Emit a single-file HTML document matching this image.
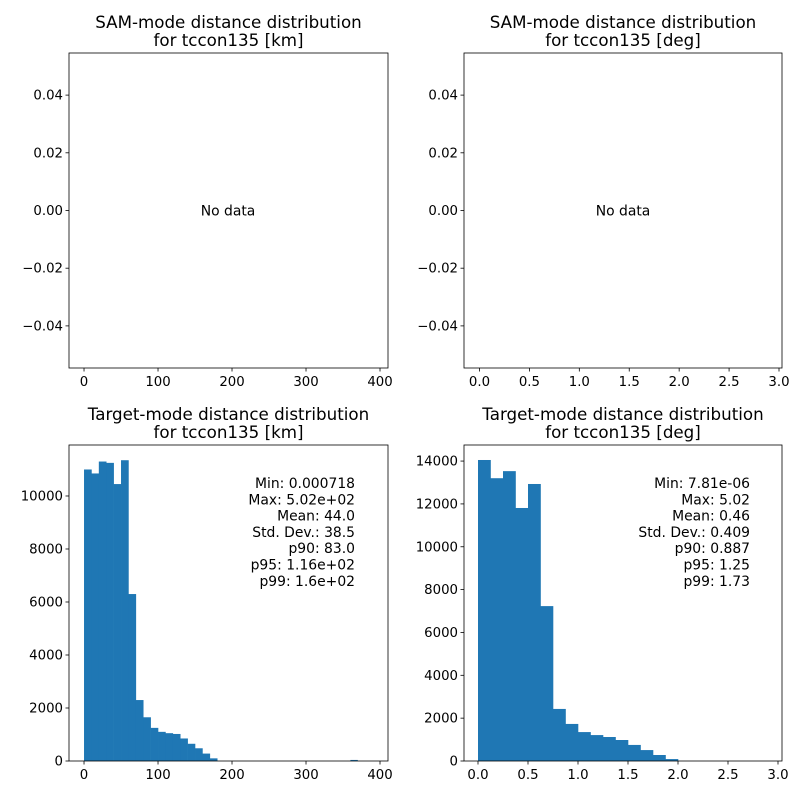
<!DOCTYPE html>
<html><head><meta charset="utf-8"><style>
body{margin:0;background:#fff;}
svg{display:block;font-family:"DejaVu Sans","Liberation Sans",sans-serif;}
</style></head><body>
<svg id="fig" width="800" height="800" xmlns="http://www.w3.org/2000/svg"></svg>
<script>
const kmCounts=[11000,10850,11300,11250,10450,11350,6300,2300,1650,1250,1100,1050,1020,850,650,480,280,100];
const kmBinWidth=10;
const kmOutlierBin=[360,40];
const degCounts=[14050,13200,13530,11810,12930,7230,2430,1730,1350,1210,1120,980,750,510,280,90];
const degBinWidth=0.125;
const kmStats=["Min: 0.000718","Max: 5.02e+02","Mean: 44.0","Std. Dev.: 38.5","p90: 83.0","p95: 1.16e+02","p99: 1.6e+02"];
const degStats=["Min: 7.81e-06","Max: 5.02","Mean: 0.46","Std. Dev.: 0.409","p90: 0.887","p95: 1.25","p99: 1.73"];
const kmXTicks=[0,100,200,300,400];
const degXTicks=[0,0.5,1.0,1.5,2.0,2.5,3.0];
const emptyYTicks=[0.04,0.02,0,-0.02,-0.04];
const kmYTicks=[0,2000,4000,6000,8000,10000];
const degYTicks=[0,2000,4000,6000,8000,10000,12000,14000];

const svg=document.getElementById('fig');
const NS='http://www.w3.org/2000/svg';
function el(tag,attrs,parent){const e=document.createElementNS(NS,tag);for(const k in attrs)e.setAttribute(k,attrs[k]);(parent||svg).appendChild(e);return e;}
function txt(s,attrs,parent){const t=el('text',attrs,parent);t.textContent=s;return t;}

function axes(cfg){
  const g=el('g',{});
  
  
  const {L,T,R,B,x0,x1,y0,y1}=cfg;
  const sx=v=>L+(v-x0)/(x1-x0)*(R-L);
  const sy=v=>B-(v-y0)/(y1-y0)*(B-T);
  if(cfg.draw)cfg.draw(g,sx,sy);
  const fr=el('rect',{x:L,y:T,width:R-L,height:B-T,fill:'none',stroke:'#000','stroke-width':0.8},g);
  
  
  cfg.xt.forEach((v,i)=>{const x=sx(v);el('line',{x1:x,x2:x,y1:B,y2:B+3.5,stroke:'#000','stroke-width':0.8},g);
    const t=txt(cfg.xl[i],{x:x,y:B+18,'font-size':13.3,'text-anchor':'middle',fill:'#000'},g);
    
    });
  cfg.yt.forEach((v,i)=>{const y=sy(v);el('line',{x1:L-3.5,x2:L,y1:y,y2:y,stroke:'#000','stroke-width':0.8},g);
    const t=txt(cfg.yl[i],{x:L-6,y:y+4.5,'font-size':13.3,'text-anchor':'end',fill:'#000'},g);
    
    });
  const cx=(L+R)/2;
  cfg.title.forEach((s,i)=>{const t=txt(s,{x:cx,y:T-25+i*18,'font-size':16.7,'text-anchor':'middle',fill:'#000'},g);
    
    });
  return g;
}
const eyl=emptyYTicks.map(v=>v===0?'0.00':(v<0?'\u2212':'')+Math.abs(v).toFixed(2));

function noData(g,sx,sy,x){const t=txt('No data',{x:x,y:sy(0)+5,'font-size':13.9,'text-anchor':'middle'},g);
  
  }

axes({name:'sam-km-axes',L:69,T:53,R:388,B:368,x0:-20.3,x1:410.8,y0:-0.0546,y1:0.0546,
  xt:kmXTicks,xl:kmXTicks.map(String),yt:emptyYTicks,yl:eyl,
  title:['SAM-mode distance distribution','for tccon135 [km]'],
  draw:(g,sx,sy)=>noData(g,sx,sy,228)});
axes({name:'sam-deg-axes',L:464,T:53,R:782,B:368,x0:-0.155,x1:3.03,y0:-0.0546,y1:0.0546,
  xt:degXTicks,xl:degXTicks.map(v=>v.toFixed(1)),yt:emptyYTicks,yl:eyl,
  title:['SAM-mode distance distribution','for tccon135 [deg]'],
  draw:(g,sx,sy)=>noData(g,sx,sy,623)});

function bars(g,sx,sy,counts,w,name){
  counts.forEach((c,i)=>{const x=sx(i*w),x2=sx((i+1)*w),y=sy(c);
    const r=el('rect',{x:x,y:y,width:x2-x+0.3,height:sy(0)-y,fill:'#1f77b4'},g);
    
    });
}
function stats(g,lines,x,y){lines.forEach((s,i)=>{const t=txt(s,{x:x,y:y+i*16.3,'font-size':13.9,'text-anchor':'end'},g);
  
  });}

axes({name:'target-km-axes',L:69,T:445,R:388,B:761,x0:-20.3,x1:410.8,y0:0,y1:11924,
  xt:kmXTicks,xl:kmXTicks.map(String),yt:kmYTicks,yl:kmYTicks.map(String),
  title:['Target-mode distance distribution','for tccon135 [km]'],
  draw:(g,sx,sy)=>{bars(g,sx,sy,kmCounts,kmBinWidth,'km-bar');
    const x=sx(kmOutlierBin[0]),x2=sx(kmOutlierBin[0]+kmBinWidth),y=sy(kmOutlierBin[1]);
    const r=el('rect',{x:x,y:y,width:x2-x,height:sy(0)-y,fill:'#1f77b4'},g);
    
    
    stats(g,kmStats,355,488);}});
axes({name:'target-deg-axes',L:464,T:445,R:782,B:761,x0:-0.14,x1:3.04,y0:0,y1:14750,
  xt:degXTicks,xl:degXTicks.map(v=>v.toFixed(1)),yt:degYTicks,yl:degYTicks.map(String),
  title:['Target-mode distance distribution','for tccon135 [deg]'],
  draw:(g,sx,sy)=>{bars(g,sx,sy,degCounts,degBinWidth,'deg-bar');stats(g,degStats,750,488);}});
</script>
</body></html>
